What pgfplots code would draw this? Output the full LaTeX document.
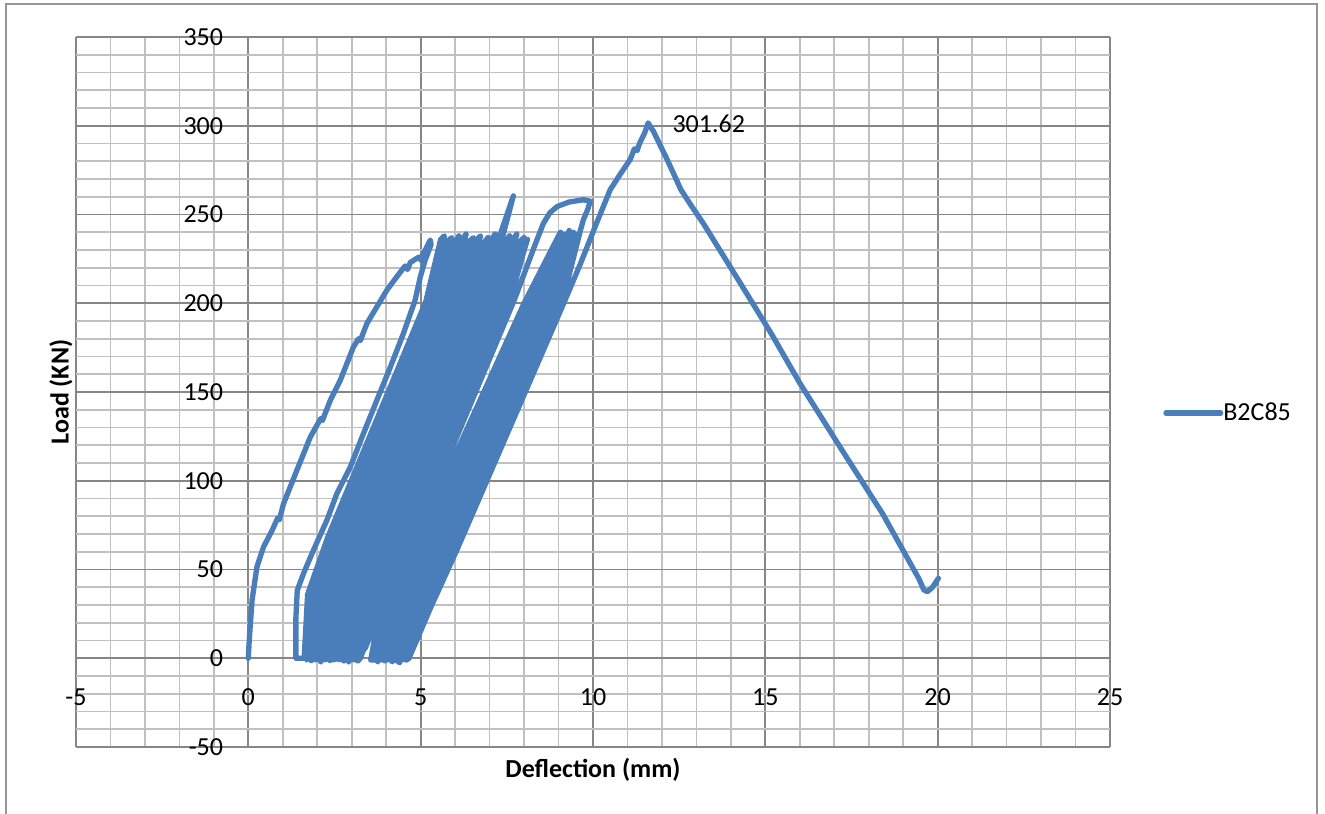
\documentclass[border=0pt]{standalone}
\usepackage{fontspec}
\setmainfont{Carlito}
\usepackage{pgfplots}
\pgfplotsset{compat=1.18}
\definecolor{serblue}{RGB}{74,126,187}
\definecolor{majgrid}{RGB}{134,134,134}
\definecolor{mingrid}{RGB}{192,192,192}
\definecolor{framegray}{RGB}{150,150,150}
\newcommand{\chfont}{\fontsize{19.5}{23}\selectfont}
\begin{document}
\begin{tikzpicture}
\path[use as bounding box] (0pt,0pt) rectangle (993.75pt,610.5pt);
\fill[white] (0pt,0pt) rectangle (993.75pt,610.5pt);
\draw[framegray, line width=1.3pt] (4.5pt,-2pt) -- (4.5pt,607.5pt) -- (987.75pt,607.5pt) -- (987.75pt,-2pt);
\begin{axis}[
 at={(57pt,50.25pt)}, anchor=south west,
 scale only axis, width=775.5pt, height=532.5pt,
 xmin=-5, xmax=25, ymin=-50, ymax=350,
 axis lines=middle, axis line style={draw=none},
 hide obscured x ticks=false, hide obscured y ticks=false,
 xtick={-5,0,...,25}, ytick={-50,0,...,350},
 minor x tick num=4, minor y tick num=4,
 grid=both,
 major grid style={draw=majgrid, line width=1.3pt},
 minor grid style={draw=mingrid, line width=1.2pt},
 major tick length=0pt, minor tick length=0pt,
 tick label style={font=\chfont},
 /pgf/number format/assume math mode=true,
 xticklabel style={anchor=center, inner sep=0pt, yshift=-29.25pt},
 yticklabel style={anchor=east, inner sep=0pt, xshift=-18.75pt},
 xlabel={\bfseries Deflection (mm)}, ylabel={\bfseries Load (KN)},
 xlabel style={at={(axis description cs:0.5,-0.0324)}, anchor=center, font=\chfont},
 ylabel style={at={(axis description cs:-0.0145,0.5)}, anchor=center, rotate=90, font=\chfont},
 legend style={at={(axis description cs:1.0513,0.4704)}, anchor=west, draw=none, fill=none, font=\chfont, inner sep=0pt, nodes={inner sep=0pt}, /tikz/every even column/.append style={column sep=3pt}},
 legend image code/.code={\draw[#1] (0pt,0pt) -- (41pt,0pt);},
]
\addplot[serblue, line width=4pt, line join=round, line cap=round] coordinates {
(0,0) (0.02,8) (0.04,14) (0.11,33) (0.25,51.5) (0.44,62.7) (0.69,72) (0.85,79) (0.9,78) (1.02,87) (1.41,106) (1.8,124.7) (2.1,135) (2.15,134) (2.38,145.4) (2.67,156.7) (3.05,175.4) (3.2,180) (3.25,179) (3.44,188.6) (3.73,198) (4.02,207.4) (4.31,215) (4.55,221) (4.62,219) (4.70,223) (4.95,226) (5.02,224) (5.08,228) (5.28,235.6)
(5.30,233) (5.13,224.3) (4.99,214.9) (4.84,201.8) (4.50,183) (4.12,164) (3.73,145.4) (3.34,126.6) (2.96,107.8) (2.57,92.8) (2.28,77.8) (1.89,60.9) (1.60,47.7) (1.42,38.3) (1.38,23) (1.38,0)
(1.62,0) (1.72,36) (2.30,68) (5.15,201) (5.58,236)
(5.69,238) (5.25,201) (2.40,68) (1.81,36) (1.69,-1)
(1.76,0.5) (1.91,36) (2.49,68) (5.35,201) (5.79,235)
(5.90,237) (5.44,201) (2.59,68) (2.00,36) (1.82,-1.5)
(1.89,0) (2.09,36) (2.68,68) (5.54,201) (6.00,234)
(6.11,238) (5.64,201) (2.78,68) (2.18,36) (1.96,-1)
(2.03,0) (2.28,36) (2.88,68) (5.74,201) (6.21,236)
(6.32,239) (5.84,201) (2.97,68) (2.37,36) (2.10,-2)
(2.16,0.5) (2.46,36) (3.07,68) (5.93,201) (6.42,235)
(6.53,237) (6.03,201) (3.16,68) (2.56,36) (2.23,-1)
(2.30,0) (2.65,36) (3.26,68) (6.13,201) (6.63,236)
(6.74,238) (6.23,201) (3.35,68) (2.74,36) (2.37,-1.5)
(2.44,0) (2.84,36) (3.45,68) (6.33,201) (6.84,234)
(6.95,237) (6.42,201) (3.55,68) (2.93,36) (2.50,-1)
(2.57,0.5) (3.02,36) (3.64,68) (6.52,201) (7.05,236)
(7.16,239) (6.62,201) (3.74,68) (3.11,36) (2.64,-1)
(2.71,0) (3.21,36) (3.83,68) (6.72,201) (7.26,236) (7.69,260.5)
(7.37,237) (6.81,201) (3.93,68) (3.30,36) (2.77,-1.5)
(2.84,0) (3.39,36) (4.02,68) (6.91,201) (7.47,235)
(7.58,238) (7.01,201) (4.12,68) (3.49,36) (2.91,-2)
(2.98,0.5) (3.58,36) (4.22,68) (7.11,201) (7.68,236)
(7.79,239) (7.21,201) (4.31,68) (3.67,36) (3.05,-1)
(3.11,0) (3.76,36) (4.41,68) (7.30,201) (7.89,235)
(8.00,237) (7.40,201) (4.50,68) (3.86,36) (3.18,-1.5)
(3.25,0) (3.95,36) (4.60,68) (7.50,201) (8.10,236)
(8.02,231) (7.58,201) (4.68,68) (4.00,36) (3.40,6) (3.10,-1)
(3.12,-0.5) (3.45,18) (3.78,36) (4.82,68) (7.72,202) (8.30,232) (8.56,245) (8.75,251) (8.96,254.5) (9.30,257) (9.72,258.3) (9.92,257.5)
(9.85,253) (9.72,247) (9.62,240) (9.10,200) (6.00,61) (5.25,29) (4.60,-1)
(4.50,-0.5) (5.11,29) (5.88,61) (8.99,200) (9.56,239)
(9.50,236) (8.88,200) (5.75,61) (4.97,29) (4.39,-2.5)
(4.29,-1) (4.82,29) (5.63,61) (8.77,200) (9.43,240)
(9.37,237) (8.66,200) (5.50,61) (4.68,29) (4.18,-2)
(4.08,0) (4.54,29) (5.38,61) (8.55,200) (9.31,241)
(9.25,237) (8.44,200) (5.25,61) (4.40,29) (3.97,-1.5)
(3.87,-0.5) (4.26,29) (5.13,61) (8.33,200) (9.19,239)
(9.12,236) (8.22,200) (5.00,61) (4.11,29) (3.76,-2)
(3.66,0) (3.97,29) (4.88,61) (8.11,200) (9.06,240)
(9.00,238) (8.00,200) (4.75,61) (3.83,29) (3.55,-1)
(4.65,-0.5) (5.30,29) (6.05,61) (9.15,200) (9.63,222) (10.10,245) (10.50,264) (10.80,273) (11.08,281) (11.20,287) (11.28,286) (11.35,290) (11.50,296) (11.60,301.62)
(11.68,299) (11.75,297) (12.15,281) (12.55,264) (12.85,255) (13.20,245) (14.30,210.5) (15.20,182) (16.00,155) (17.20,118) (18.40,81.5) (19.45,45) (19.60,38.5) (19.70,37.5) (19.85,40) (20.02,45)
};
\addlegendentry{B2C85}
\node[anchor=west, inner sep=0pt, font=\chfont] at (axis cs:12.3,301) {301.62};
\end{axis}
\end{tikzpicture}
\end{document}
